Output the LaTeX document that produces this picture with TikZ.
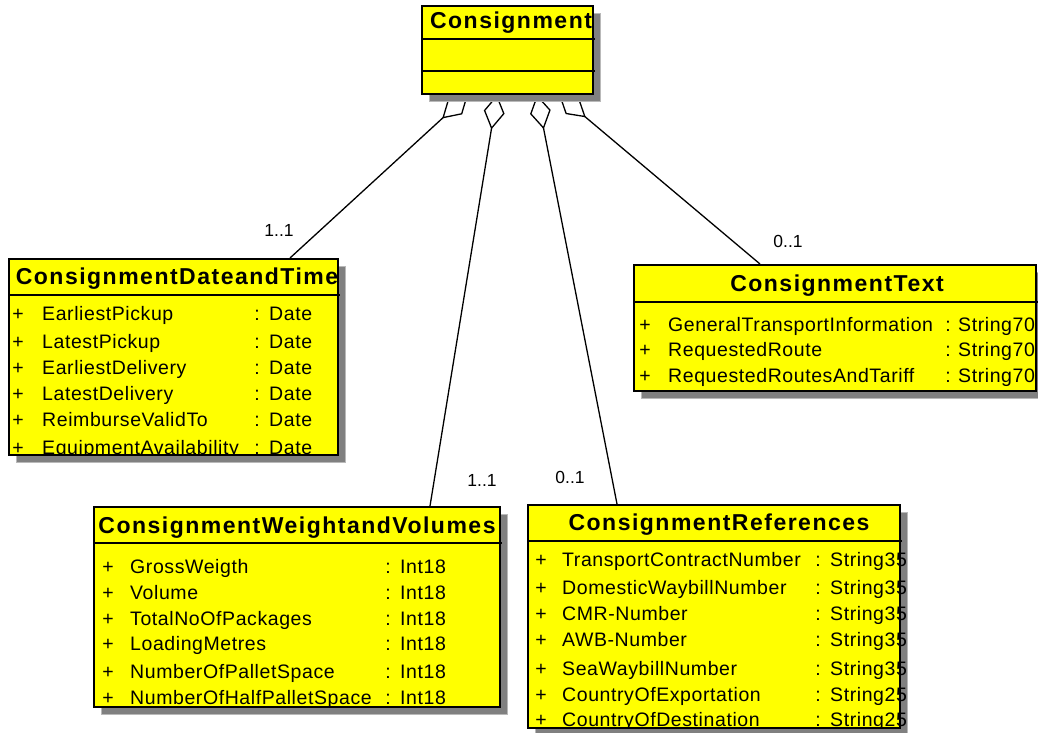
\documentclass[tikz,border=0pt]{standalone}
\usepackage{fontspec}
\setmainfont{Liberation Sans}
\newfontfamily\attrfont{Liberation Sans}[LetterSpace=3]
\newfontfamily\headfont{Liberation Sans}[LetterSpace=6.5]
\usetikzlibrary{arrows.meta}
\definecolor{umlyellow}{HTML}{FFFF00}
\definecolor{shadowgray}{HTML}{808080}
\pgfdeclarelayer{links}
\pgfsetlayers{links,main}

\tikzset{
  classbox/.style={draw=black, fill=umlyellow, line width=1.8pt, inner sep=0pt, anchor=north west},
  boxshadow/.style={fill=shadowgray, draw=gray!55, line width=0.8pt},
  headtext/.style={inner sep=0pt, anchor=base, font=\headfont\bfseries\fontsize{23}{26}\selectfont},
  attrtext/.style={inner sep=0pt, anchor=base west, font=\attrfont\fontsize{19.5}{22}\selectfont},
  markc/.style={inner sep=0pt, anchor=base, font=\attrfont\fontsize{19.5}{22}\selectfont},
  multtext/.style={inner sep=0pt, font=\fontsize{17.5}{21}\selectfont},
  sepline/.style={line width=1.5pt},
  aggr/.style={line width=1.3pt, {Diamond[open,length=35pt,width=21pt]}-},
}

% class box: name, left, top, right, bottom, width, height, separator y list
\newcommand\umlclass[8]{%
  \fill[boxshadow] (#2+8,#3+8) rectangle (#4+8,#5+8);
  \node[classbox, minimum width=#6pt, minimum height=#7pt] (#1) at (#2,#3) {};
  \foreach \sy in {#8} {\draw[sepline] (#2,\sy) -- (#4+3,\sy);}
}
% attribute rows: prefix, x of +, x of name, x of colon, x of type, rows y/name/type
\newcommand\umlattrs[6]{%
  \foreach \yy/\nm/\ty [count=\i] in {#6} {
    \node[markc] (#1-p\i) at (#2,\yy+7) {+};
    \node[attrtext] (#1-a\i) at (#3,\yy+7) {\nm};
    \node[markc] (#1-c\i) at (#4,\yy+7) {:};
    \node[attrtext] (#1-t\i) at (#5,\yy+7) {\ty};
  }
}

\begin{document}
\begin{tikzpicture}[x=1pt,y=-1pt]
\useasboundingbox (0,0) rectangle (1038,733);

% Consignment
\umlclass{con}{421}{5}{592}{93}{171}{88}{39,71}
\begin{scope}
  \clip (421,5) rectangle (592,93);
  \node[headtext] (con-h) at (511,29) {Consignment};
\end{scope}

% ConsignmentDateandTime
\umlclass{dt}{8}{258}{337}{454}{329}{196}{295}
\begin{scope}
  \clip (8,258) rectangle (337,295);
  \node[headtext] (dt-h) at (177,284) {ConsignmentDateandTime};
\end{scope}
\begin{scope}
  \clip (8,295) rectangle (345,454);
  \umlattrs{dt}{18}{42}{257}{269}{313/EarliestPickup/Date, 341/LatestPickup/Date,
    367/EarliestDelivery/Date, 393/LatestDelivery/Date, 419/ReimburseValidTo/Date,
    447/EquipmentAvailability/Date}
\end{scope}

% ConsignmentText
\umlclass{txt}{633}{264}{1035}{390}{402}{126}{302}
\begin{scope}
  \clip (633,264) rectangle (1035,302);
  \node[headtext] (txt-h) at (837,291) {ConsignmentText};
\end{scope}
\begin{scope}
  \clip (633,302) rectangle (1038,390);
  \umlattrs{txt}{645}{668}{948}{958}{324/GeneralTransportInformation/String70,
    349/RequestedRoute/String70, 375/RequestedRoutesAndTariff/String70}
\end{scope}

% ConsignmentWeightandVolumes
\umlclass{wv}{93}{506}{499}{706}{406}{200}{543}
\begin{scope}
  \clip (93,506) rectangle (499,543);
  \node[headtext] (wv-h) at (297,533) {ConsignmentWeightandVolumes};
\end{scope}
\begin{scope}
  \clip (93,543) rectangle (507,706);
  \umlattrs{wv}{108}{130}{388}{400}{566/GrossWeigth/Int18, 592/Volume/Int18,
    618/TotalNoOfPackages/Int18, 643/LoadingMetres/Int18,
    671/NumberOfPalletSpace/Int18, 697/NumberOfHalfPalletSpace/Int18}
\end{scope}

% ConsignmentReferences
\umlclass{ref}{527}{504}{899}{727}{372}{223}{541}
\begin{scope}
  \clip (527,504) rectangle (899,541);
  \node[headtext] (ref-h) at (719,530) {ConsignmentReferences};
\end{scope}
\begin{scope}
  \clip (527,541) rectangle (910,727);
  \umlattrs{ref}{541}{562}{818}{830}{559/TransportContractNumber/String35,
    587/DomesticWaybillNumber/String35, 613/CMR-Number/String35,
    639/AWB-Number/String35, 668/SeaWaybillNumber/String35,
    694/CountryOfExportation/String25, 719/CountryOfDestination/String25}
\end{scope}

% aggregations, kept beneath the boxes and their shadows
\begin{pgfonlayer}{links}
  \draw[aggr] ([xshift=47pt]con.south west) -- ([xshift=282pt]dt.north west);
  \draw[aggr] ([xshift=76pt]con.south west) -- ([xshift=337pt]wv.north west);
  \draw[aggr] ([xshift=116pt]con.south west) -- ([xshift=90pt]ref.north west);
  \draw[aggr] ([xshift=138pt]con.south west) -- ([xshift=127pt]txt.north west);
\end{pgfonlayer}

% multiplicities
\node[multtext] (m-dt) at (279,230) {1..1};
\node[multtext] (m-txt) at (788,241) {0..1};
\node[multtext] (m-wv) at (482,480) {1..1};
\node[multtext] (m-ref) at (570,477) {0..1};
\end{tikzpicture}
\end{document}
